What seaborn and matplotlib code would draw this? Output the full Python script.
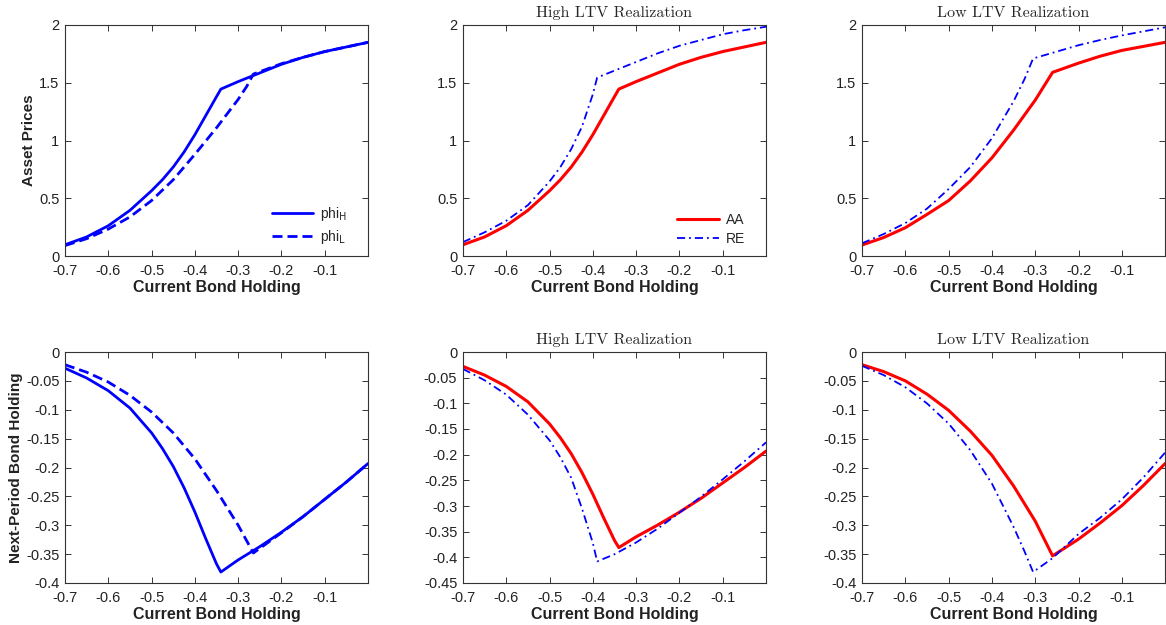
import numpy as np
import pandas as pd
import matplotlib
matplotlib.use("Agg")
import matplotlib.pyplot as plt
import seaborn as sns

# asset prices (phi_H is also the AA path under the high LTV realization)
price_H_x = [-0.7, -0.65, -0.6, -0.55, -0.5, -0.475, -0.45, -0.425, -0.4, -0.375, -0.35, -0.34,
             -0.3, -0.25, -0.2, -0.15, -0.1, -0.05, 0.0]
price_H_y = [0.097, 0.165, 0.262, 0.395, 0.565, 0.66, 0.77, 0.9, 1.05, 1.215, 1.38, 1.445,
             1.51, 1.585, 1.66, 1.72, 1.77, 1.81, 1.85]
price_L_x = [-0.7, -0.65, -0.6, -0.55, -0.5, -0.45, -0.4, -0.35, -0.3, -0.28, -0.265,
             -0.2, -0.15, -0.1, -0.05, 0.0]
price_L_y = [0.09, 0.15, 0.233, 0.338, 0.48, 0.66, 0.88, 1.11, 1.356, 1.47, 1.575,
             1.665, 1.72, 1.77, 1.81, 1.85]
price_RE_high_x = [-0.7, -0.65, -0.6, -0.55, -0.5, -0.475, -0.45, -0.425, -0.4, -0.39,
                   -0.35, -0.3, -0.25, -0.2, -0.15, -0.1, -0.05, 0.0]
price_RE_high_y = [0.12, 0.205, 0.305, 0.44, 0.645, 0.77, 0.925, 1.12, 1.40, 1.545,
                   1.605, 1.68, 1.755, 1.82, 1.87, 1.92, 1.955, 1.985]
price_AA_low_x = [-0.7, -0.65, -0.6, -0.55, -0.5, -0.45, -0.4, -0.35, -0.3, -0.26,
                  -0.2, -0.15, -0.1, -0.05, 0.0]
price_AA_low_y = [0.095, 0.16, 0.245, 0.36, 0.48, 0.65, 0.85, 1.09, 1.35, 1.59,
                  1.67, 1.73, 1.78, 1.815, 1.85]
price_RE_low_x = [-0.7, -0.65, -0.6, -0.55, -0.5, -0.45, -0.4, -0.35, -0.325, -0.305,
                  -0.25, -0.2, -0.15, -0.1, -0.05, 0.0]
price_RE_low_y = [0.11, 0.19, 0.285, 0.41, 0.58, 0.77, 1.02, 1.34, 1.53, 1.71,
                  1.77, 1.825, 1.87, 1.91, 1.945, 1.98]

# next-period bond holding
bond_H_x = [-0.7, -0.65, -0.6, -0.55, -0.5, -0.475, -0.45, -0.425, -0.4, -0.375, -0.35, -0.34,
            -0.3, -0.25, -0.2, -0.15, -0.1, -0.05, 0.0]
bond_H_y = [-0.028, -0.045, -0.067, -0.097, -0.14, -0.167, -0.198, -0.235, -0.277, -0.323, -0.367, -0.381,
            -0.36, -0.337, -0.312, -0.285, -0.255, -0.225, -0.193]
bond_L_x = [-0.7, -0.65, -0.6, -0.55, -0.5, -0.45, -0.4, -0.35, -0.3, -0.265,
            -0.25, -0.2, -0.15, -0.1, -0.05, 0.0]
bond_L_y = [-0.022, -0.035, -0.052, -0.075, -0.104, -0.14, -0.185, -0.24, -0.30, -0.348,
            -0.34, -0.313, -0.285, -0.255, -0.225, -0.193]
bond_RE_high_x = [-0.7, -0.65, -0.6, -0.55, -0.5, -0.475, -0.45, -0.425, -0.4, -0.39,
                  -0.35, -0.3, -0.25, -0.2, -0.15, -0.1, -0.05, 0.0]
bond_RE_high_y = [-0.033, -0.055, -0.083, -0.122, -0.172, -0.205, -0.245, -0.305, -0.372, -0.408,
                  -0.394, -0.371, -0.344, -0.313, -0.282, -0.248, -0.213, -0.176]
bond_AA_low_x = [-0.7, -0.65, -0.6, -0.55, -0.5, -0.45, -0.4, -0.35, -0.3, -0.26,
                 -0.2, -0.15, -0.1, -0.05, 0.0]
bond_AA_low_y = [-0.022, -0.034, -0.05, -0.073, -0.101, -0.137, -0.179, -0.232, -0.293, -0.353,
                 -0.324, -0.296, -0.266, -0.231, -0.193]
bond_RE_low_x = [-0.7, -0.65, -0.6, -0.55, -0.5, -0.45, -0.4, -0.35, -0.325, -0.305,
                 -0.26, -0.2, -0.15, -0.1, -0.05, 0.0]
bond_RE_low_y = [-0.024, -0.04, -0.061, -0.089, -0.124, -0.17, -0.228, -0.303, -0.345, -0.381,
                 -0.357, -0.315, -0.287, -0.255, -0.217, -0.174]

x_ticks = [-0.7, -0.6, -0.5, -0.4, -0.3, -0.2, -0.1]
price_ticks = [0, 0.5, 1, 1.5, 2]
bond_ticks = [-0.4, -0.35, -0.3, -0.25, -0.2, -0.15, -0.1, -0.05, 0]
bond_ticks_deep = [-0.45] + bond_ticks

sns.set_style("ticks")
plt.rcParams.update({
    "font.family": ["Liberation Sans", "DejaVu Sans"],
    "axes.unicode_minus": False,
    "xtick.direction": "in",
    "ytick.direction": "in",
    "xtick.top": True,
    "ytick.right": True,
    "axes.linewidth": 0.8,
    "axes.edgecolor": "#333333",
    "xtick.color": "#333333",
    "ytick.color": "#333333",
    "xtick.labelsize": 10.5,
    "ytick.labelsize": 10.5,
    "xtick.labelcolor": "#222222",
    "ytick.labelcolor": "#222222",
})

BLUE = "#0000FF"
RED = "#FF0000"
DASHED = (0, (3.6, 1.8))
DASHDOT = (0, (4.5, 2.2, 1.0, 2.2))

fig = plt.figure(figsize=(11.66, 6.25), dpi=100)
lefts = [0.0557, 0.397, 0.7393]
w, h = 0.26, 0.3696
axes_top = [fig.add_axes([l, 0.5904, w, h]) for l in lefts]
axes_bot = [fig.add_axes([l, 0.0672, w, h]) for l in lefts]


def curve(ax, xs, ys, color, ls, lw, label=None):
    df = pd.DataFrame({"x": xs, "y": ys})
    sns.lineplot(data=df, x="x", y="y", ax=ax, color=color, linestyle=ls,
                 linewidth=lw, label=label, sort=False, legend=False)


def fmt(v):
    s = f"{v:.2f}".rstrip("0").rstrip(".")
    return "0" if s in ("-0", "0") else s


def style(ax, yticks, ylim, title=None, ylabel=None):
    ax.set_xlim(-0.7, 0)
    ax.set_ylim(*ylim)
    ax.set_xticks(x_ticks)
    ax.set_xticklabels([fmt(t) for t in x_ticks])
    ax.set_yticks(yticks)
    ax.set_yticklabels([fmt(t) for t in yticks])
    ax.tick_params(axis="x", length=4, width=0.7, pad=5.5)
    ax.tick_params(axis="y", length=4, width=0.7, pad=4)
    ax.set_xlabel("Current Bond Holding", fontsize=11.5, fontweight="bold",
                  color="#222222", labelpad=2)
    ax.set_ylabel(ylabel or "", fontsize=11, fontweight="bold", color="#222222",
                  labelpad=2)
    if title:
        ax.set_title(title, fontsize=11.5, family="cmr10", pad=6)


# top row: asset prices
ax = axes_top[0]
curve(ax, price_H_x, price_H_y, BLUE, "-", 2.0, r"phi$_{\mathrm{H}}$")
curve(ax, price_L_x, price_L_y, BLUE, DASHED, 2.0, r"phi$_{\mathrm{L}}$")
style(ax, price_ticks, (0, 2), ylabel="Asset Prices")

ax = axes_top[1]
curve(ax, price_H_x, price_H_y, RED, "-", 2.2, "AA")
curve(ax, price_RE_high_x, price_RE_high_y, BLUE, DASHDOT, 1.3, "RE")
style(ax, price_ticks, (0, 2), title="High LTV Realization")

ax = axes_top[2]
curve(ax, price_AA_low_x, price_AA_low_y, RED, "-", 2.2)
curve(ax, price_RE_low_x, price_RE_low_y, BLUE, DASHDOT, 1.3)
style(ax, price_ticks, (0, 2), title="Low LTV Realization")

for ax in axes_top[:2]:
    ax.legend(loc="lower right", frameon=False, fontsize=10, handlelength=3.0,
              handletextpad=0.5, borderaxespad=0, labelspacing=0.35,
              bbox_to_anchor=(0.95, 0.02))

# bottom row: next-period bond holding
ax = axes_bot[0]
curve(ax, bond_H_x, bond_H_y, BLUE, "-", 2.0)
curve(ax, bond_L_x, bond_L_y, BLUE, DASHED, 2.0)
style(ax, bond_ticks, (-0.4, 0), ylabel="Next-Period Bond Holding")

ax = axes_bot[1]
curve(ax, bond_H_x, bond_H_y, RED, "-", 2.2)
curve(ax, bond_RE_high_x, bond_RE_high_y, BLUE, DASHDOT, 1.3)
style(ax, bond_ticks_deep, (-0.45, 0), title="High LTV Realization")

ax = axes_bot[2]
curve(ax, bond_AA_low_x, bond_AA_low_y, RED, "-", 2.2)
curve(ax, bond_RE_low_x, bond_RE_low_y, BLUE, DASHDOT, 1.3)
style(ax, bond_ticks, (-0.4, 0), title="Low LTV Realization")

fig.savefig("out.png", dpi=100)
